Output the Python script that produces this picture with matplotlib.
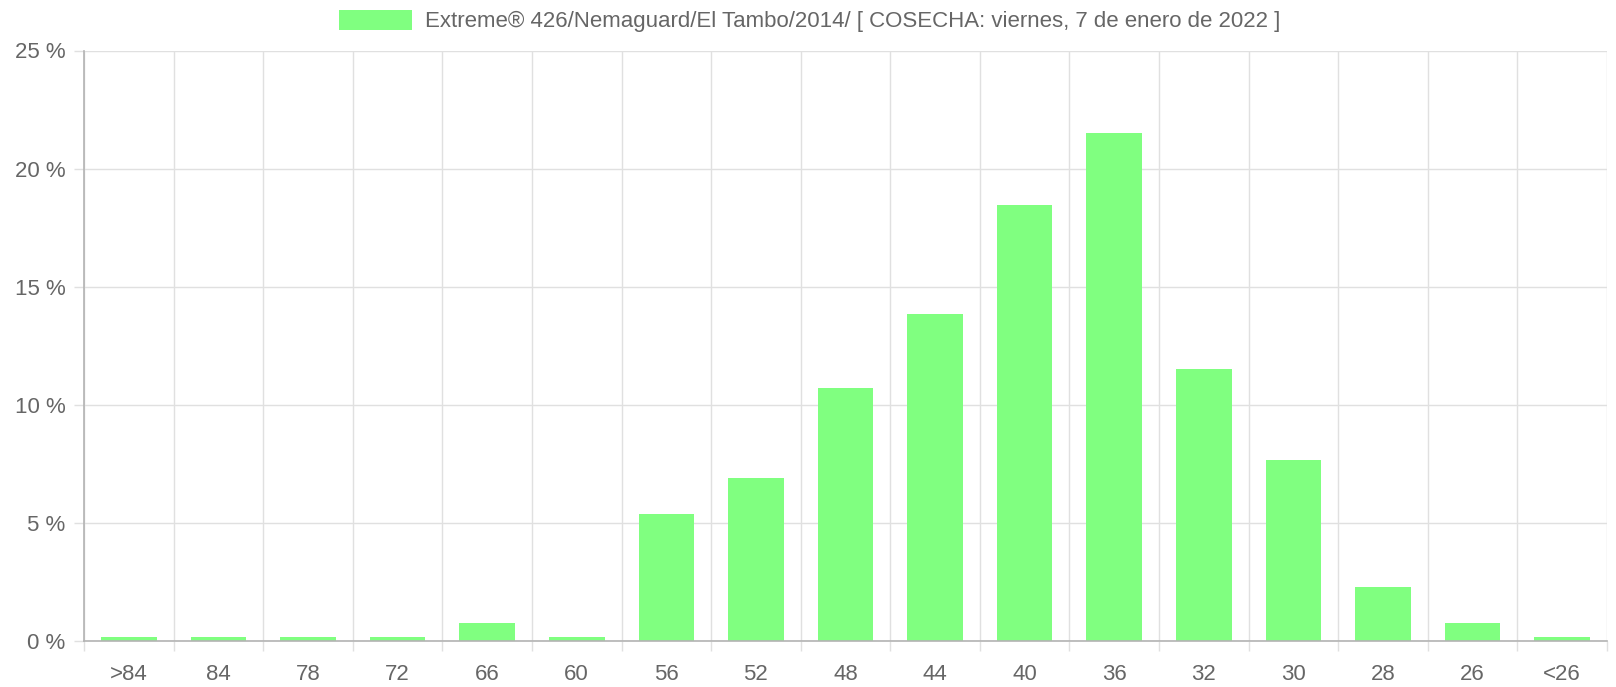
#!/usr/bin/env python3
"""Size distribution bar chart (percent per caliber), Chart.js look."""
import matplotlib
matplotlib.use("Agg")
import matplotlib.pyplot as plt

# data
categories = [">84", "84", "78", "72", "66", "60", "56", "52", "48", "44",
              "40", "36", "32", "30", "28", "26", "<26"]
percent = [0.17, 0.17, 0.17, 0.17, 0.77, 0.17, 5.37, 6.89, 10.73, 13.83,
           18.46, 21.51, 11.52, 7.68, 2.27, 0.77, 0.17]
series_label = "Extreme® 426/Nemaguard/El Tambo/2014/ [ COSECHA: viernes, 7 de enero de 2022 ]"
y_ticks = [0, 5, 10, 15, 20, 25]

W, H = 1616, 687
plt.rcParams["font.family"] = ["Liberation Sans", "DejaVu Sans"]

fig = plt.figure(figsize=(W / 100, H / 100), dpi=100)
left, right, bottom, top = 84, 1607, 641, 50.5
ax = fig.add_axes([left / W, 1 - bottom / H, (right - left) / W, (bottom - top) / H])

bar_color = "#80ff80"
grid_c = "#e0e0e0"
axis_c = "#b3b3b3"
text_c = "#666666"

x = list(range(len(categories)))
ax.bar(x, percent, width=0.62, color=bar_color, label=series_label, zorder=2)

ax.set_xlim(-0.5, len(categories) - 0.5)
ax.set_ylim(0, 25)

# x: labels at centres, grid lines at category borders
ax.set_xticks(x)
ax.set_xticklabels(categories)
ax.set_xticks([i - 0.5 for i in range(len(categories) + 1)], minor=True)
ax.tick_params(axis="x", which="major", length=0, pad=16.5, labelsize=16, labelcolor=text_c)
ax.tick_params(axis="x", which="minor", length=7.2, width=1, color=grid_c)
ax.grid(axis="x", which="minor", color=grid_c, linewidth=1, zorder=0)

ax.set_yticks(y_ticks)
ax.set_yticklabels([f"{v} %" for v in y_ticks])
ax.tick_params(axis="y", length=7.2, width=1, color=grid_c, pad=6,
               labelsize=16, labelcolor=text_c)
ax.grid(axis="y", which="major", color=grid_c, linewidth=1, zorder=0)

for s in ("top", "right"):
    ax.spines[s].set_visible(False)
for s in ("left", "bottom"):
    ax.spines[s].set_color(axis_c)
    ax.spines[s].set_linewidth(1.2)
    ax.spines[s].set_zorder(3)

leg = fig.legend(loc="center", bbox_to_anchor=(0.501, 1 - 21 / H), frameon=False,
                 fontsize=16, handlelength=3.3, handleheight=1.0, handletextpad=0.55)
for t in leg.get_texts():
    t.set_color(text_c)

fig.savefig("out.png", dpi=100)
